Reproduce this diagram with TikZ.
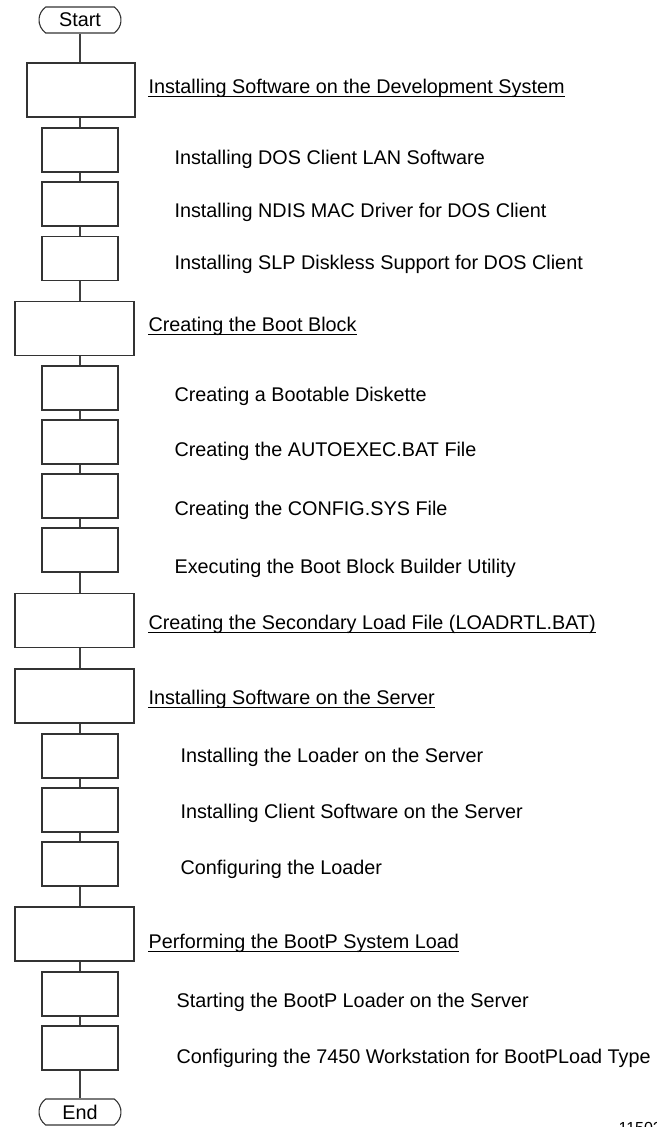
\documentclass[tikz,border=0pt]{standalone}
\usepackage{fontspec}
\setmainfont{Liberation Sans}
\usetikzlibrary{shapes.misc}
\begin{document}
\begin{tikzpicture}[x=1pt,y=-1pt,
  line width=1.1pt,
  every node/.style={font=\fontsize{19.8}{23}\selectfont},
  term/.style={draw=black!80, rounded rectangle, rounded rectangle arc length=110, minimum width=82pt, minimum height=26pt, inner sep=0pt},
  bigbox/.style={draw=black!80, minimum width=119pt, minimum height=54pt, inner sep=0pt},
  smallbox/.style={draw=black!80, minimum width=76pt, minimum height=44pt, inner sep=0pt},
  lbl/.style={anchor=base west, inner sep=0pt},
  conn/.style={draw=black!75},
  ul/.style={line width=1.6pt}]
\clip (0,0) rectangle (656,1127);
\coordinate (axis) at (80,0);
% terminators
\node[term] (start) at (80,20) {Start};
\node[term] (end) at (80,1112) {End};
% boxes
\node[bigbox, minimum width=108pt] (b1) at (81,90) {};
\node[smallbox] (s1) at (80,150) {};
\node[smallbox] (s2) at (80,204) {};
\node[smallbox] (s3) at (80,258.5) {};
\node[bigbox] (b2) at (74.5,328.5) {};
\node[smallbox] (s4) at (80,388) {};
\node[smallbox] (s5) at (80,442) {};
\node[smallbox] (s6) at (80,496) {};
\node[smallbox] (s7) at (80,550) {};
\node[bigbox] (b3) at (74.5,620.5) {};
\node[bigbox] (b4) at (74.5,696) {};
\node[smallbox] (s8) at (80,756) {};
\node[smallbox] (s9) at (80,810) {};
\node[smallbox] (s10) at (80,864) {};
\node[bigbox] (b5) at (74.5,934) {};
\node[smallbox] (s11) at (80,994) {};
\node[smallbox] (s12) at (80,1048) {};
% connectors
\foreach \a/\b in {start/b1,b1/s1,s1/s2,s2/s3,s3/b2,b2/s4,s4/s5,s5/s6,s6/s7,s7/b3,b3/b4,b4/s8,s8/s9,s9/s10,s10/b5,b5/s11,s11/s12,s12/end}
  \draw[conn] (axis |- \a.south) -- (axis |- \b.north);
% headings
\node[lbl] (h1) at (148,93) {Installing Software on the Development System};
\node[lbl] (h2) at (148,331) {Creating the Boot Block};
\node[lbl] (h3) at (148,629) {Creating the Secondary Load File (LOADRTL.BAT)};
\node[lbl] (h4) at (148,704) {Installing Software on the Server};
\node[lbl] (h5) at (148,948) {Performing the BootP System Load};
\foreach \h in {h1,h2,h3,h4,h5}
  \draw[ul] ([yshift=-3.5pt]\h.base west) -- ([yshift=-3.5pt]\h.base east);
% items
\node[lbl] (t1) at (174,164) {Installing DOS Client LAN Software};
\node[lbl] (t2) at (174,217) {Installing NDIS MAC Driver for DOS Client};
\node[lbl] (t3) at (174,269) {Installing SLP Diskless Support for DOS Client};
\node[lbl] (t4) at (174,401) {Creating a Bootable Diskette};
\node[lbl] (t5) at (174,456) {Creating the AUTOEXEC.BAT File};
\node[lbl] (t6) at (174,515) {Creating the CONFIG.SYS File};
\node[lbl] (t7) at (174,573) {Executing the Boot Block Builder Utility};
\node[lbl] (t8) at (180,762) {Installing the Loader on the Server};
\node[lbl] (t9) at (180,818) {Installing Client Software on the Server};
\node[lbl] (t10) at (180,874) {Configuring the Loader};
\node[lbl] (t11) at (176,1007) {Starting the BootP Loader on the Server};
\node[lbl] (t12) at (176,1063) {Configuring the 7450 Workstation for BootPLoad Type};
\node[lbl, font=\fontsize{16}{18}\selectfont] (num) at (618,1133.5) {11502};
\end{tikzpicture}
\end{document}
